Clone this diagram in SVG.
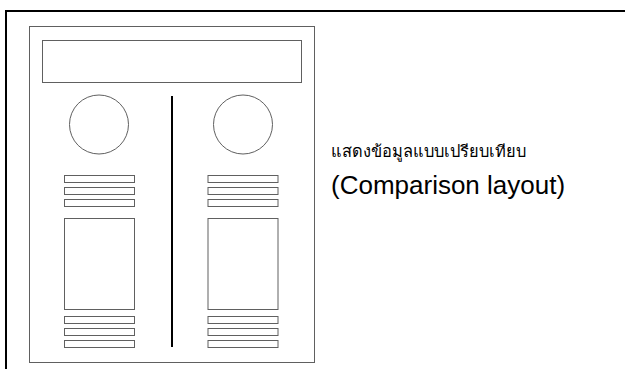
<svg xmlns="http://www.w3.org/2000/svg" width="625" height="369" viewBox="0 0 625 369">
<style>
.pg{fill:#fff;stroke:#606060;stroke-width:1}
.frame{fill:none;stroke:#000;stroke-width:2}
.div{stroke:#000;stroke-width:2}
.t{font-family:"Liberation Sans",Arial,sans-serif;fill:#000}
</style>
<rect width="625" height="369" fill="#fff"/>
<path class="frame" d="M6,369 V11 H625"/>
<g id="page">
<rect class="pg" x="29.5" y="26.5" width="285" height="336"/>
</g>
<g id="header"><rect class="pg" x="42.5" y="40.5" width="259" height="42"/></g>
<g id="left-column">
<circle class="pg" cx="99" cy="124.5" r="29.5"/>
<rect class="pg" x="64.5" y="175.5" width="70" height="7"/>
<rect class="pg" x="64.5" y="187.5" width="70" height="7"/>
<rect class="pg" x="64.5" y="199.5" width="70" height="7"/>
<rect class="pg" x="64.5" y="218.5" width="70" height="91"/>
<rect class="pg" x="64.5" y="316.5" width="70" height="7"/>
<rect class="pg" x="64.5" y="328.5" width="70" height="7"/>
<rect class="pg" x="64.5" y="340.5" width="70" height="7"/>
</g>
<g id="right-column">
<circle class="pg" cx="243" cy="124.5" r="29.5"/>
<rect class="pg" x="208" y="175.5" width="70" height="7"/>
<rect class="pg" x="208" y="187.5" width="70" height="7"/>
<rect class="pg" x="208" y="199.5" width="70" height="7"/>
<rect class="pg" x="208" y="218.5" width="70" height="91"/>
<rect class="pg" x="208" y="316.5" width="70" height="7"/>
<rect class="pg" x="208" y="328.5" width="70" height="7"/>
<rect class="pg" x="208" y="340.5" width="70" height="7"/>
</g>
<g id="connectors">
<line class="div" x1="172" y1="96" x2="172" y2="347"/>
</g>
<g id="caption">
<text class="t" x="331" y="157" font-size="16.4" fill="#222">แสดงข้อมูลแบบเปรียบเทียบ</text>
<text class="t" x="331" y="194" font-size="26">(Comparison layout)</text>
</g>
</svg>
